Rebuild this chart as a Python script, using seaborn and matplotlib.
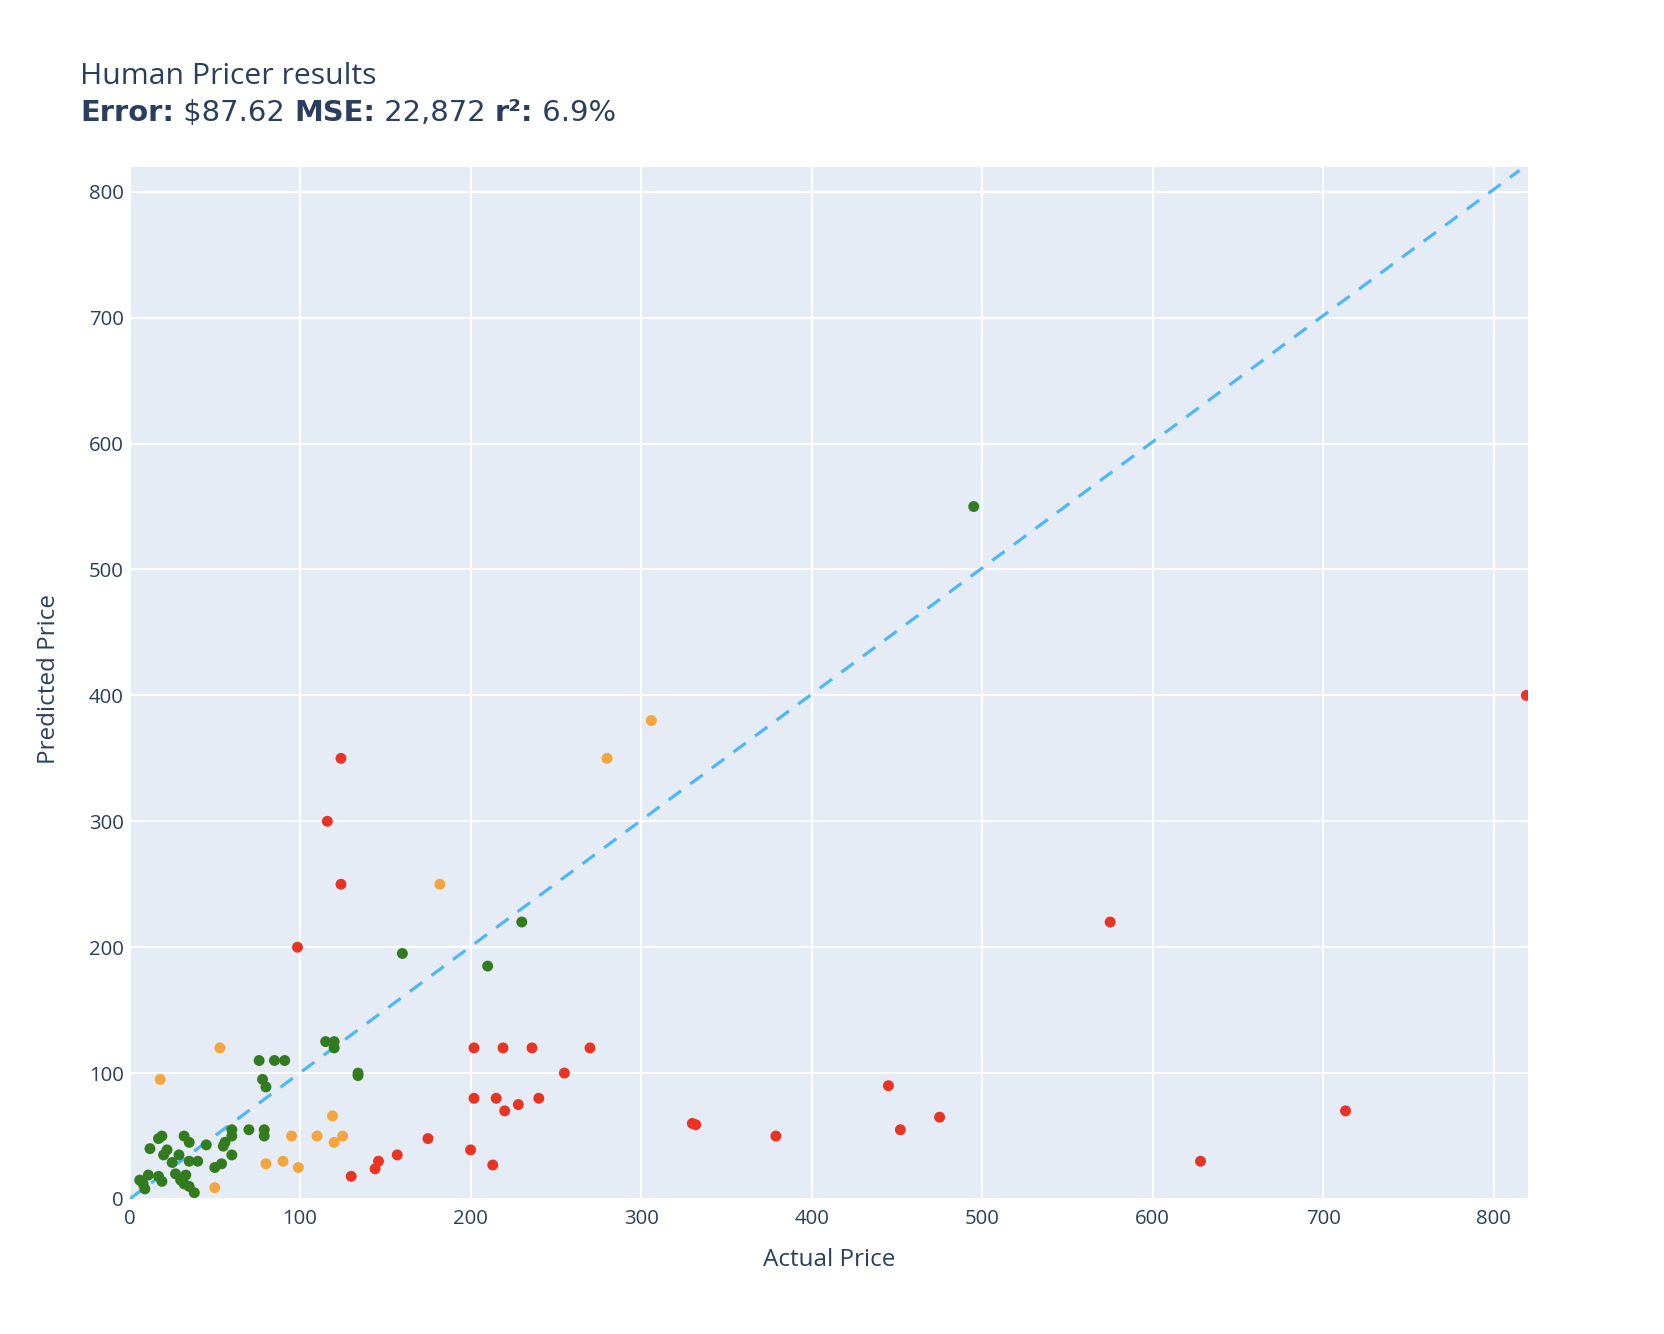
import matplotlib
matplotlib.use("Agg")
import matplotlib.pyplot as plt
import seaborn as sns
import pandas as pd

# ---- data (actual price, predicted price, result class) ----
green_actual = [6, 8, 9, 11, 12, 17, 19, 17, 19, 20, 22, 25, 27, 29, 30, 32, 33, 32, 35, 35,
                35, 38, 40, 45, 50, 54, 55, 56, 60, 60, 60, 70, 79, 79, 76, 85, 91, 78, 80,
                115, 120, 120, 134, 134, 160, 210, 230, 495]
green_pred = [15, 12, 8, 19, 40, 18, 14, 48, 50, 35, 39, 29, 20, 35, 15, 50, 19, 12, 30, 45,
              10, 5, 30, 43, 25, 28, 42, 45, 35, 50, 55, 55, 55, 50, 110, 110, 110, 95, 89,
              125, 125, 120, 100, 98, 195, 185, 220, 550]

orange_actual = [18, 53, 50, 80, 90, 99, 95, 110, 119, 120, 125, 182, 280, 306]
orange_pred = [95, 120, 9, 28, 30, 25, 50, 50, 66, 45, 50, 250, 350, 380]

red_actual = [98.5, 116, 124, 124, 130, 144, 146, 157, 175, 200, 202, 202, 213, 215, 219,
              220, 228, 236, 240, 255, 270, 330, 332, 379, 445, 452, 475, 575, 628, 713, 819]
red_pred = [200, 300, 350, 250, 18, 24, 30, 35, 48, 39, 120, 80, 27, 80, 120,
            70, 75, 120, 80, 100, 120, 60, 59, 50, 90, 55, 65, 220, 30, 70, 400]

ticks = [0, 100, 200, 300, 400, 500, 600, 700, 800]
title_line1 = "Human Pricer results"
subtitle_parts = [("Error:", True), (" $87.62 ", False), ("MSE:", True), (" 22,872 ", False),
                  ("r²:", True), (" 6.9%", False)]
x_title = "Actual Price"
y_title = "Predicted Price"

df = pd.DataFrame({
    "actual": green_actual + orange_actual + red_actual,
    "predicted": green_pred + orange_pred + red_pred,
    "result": ["green"] * len(green_actual) + ["orange"] * len(orange_actual) + ["red"] * len(red_actual),
})
palette = {"green": "#327c1f", "orange": "#f2a63d", "red": "#e93424"}

TEXT = "#2a3f5f"
sns.set_theme(style="darkgrid")
plt.rcParams["font.family"] = ["Open Sans", "DejaVu Sans"]

fig = plt.figure(figsize=(16.64, 13.34), dpi=100)
ax = fig.add_axes([129.5 / 1664, 1 - 1199 / 1334, (1528 - 129.5) / 1664, (1199 - 166.6) / 1334])
ax.set_facecolor("#e5ecf6")

lim = 820
ax.plot([0, 815], [0, 817], color="#4fb8f3", lw=2.3, dashes=(4.8, 3.6), zorder=2)

sns.scatterplot(data=df, x="actual", y="predicted", hue="result", palette=palette,
                s=62, linewidth=0, legend=False, ax=ax, zorder=3)

ax.set_xlim(0, lim)
ax.set_ylim(0, lim)
ax.set_xticks(ticks)
ax.set_yticks(ticks)
ax.set_xticklabels([str(t) for t in ticks])
ax.set_yticklabels([str(t) for t in ticks])
ax.grid(True, color="white", lw=1.5)
ax.set_axisbelow(True)
for sp in ax.spines.values():
    sp.set_visible(False)
ax.tick_params(axis="both", length=0, labelsize=14.7, labelcolor=TEXT)
ax.tick_params(axis="x", pad=7)
ax.tick_params(axis="y", pad=4)
ax.set_xlabel("")
ax.set_ylabel("")

fig.text(829 / 1664, 1 - 1260 / 1334, x_title, ha="center", va="center", fontsize=17.5, color=TEXT)
fig.text(49 / 1664, 1 - 679 / 1334, y_title, ha="center", va="center", rotation=90,
         fontsize=17.5, color=TEXT)

fig.text(80 / 1664, 1 - 84 / 1334, title_line1, ha="left", va="baseline", fontsize=21.7, color=TEXT)

fig.canvas.draw()
renderer = fig.canvas.get_renderer()
xpos = 80 / 1664
ypos = 1 - 121 / 1334
for txt, bold in subtitle_parts:
    t = fig.text(xpos, ypos, txt.replace("$", r"\$"), ha="left", va="baseline", fontsize=20.9,
                 color=TEXT, fontweight="bold" if bold else "normal",
                 family=["DejaVu Sans"])
    bb = t.get_window_extent(renderer=renderer)
    xpos += bb.width / fig.bbox.width

fig.savefig("out.png", dpi=100, facecolor="white")
